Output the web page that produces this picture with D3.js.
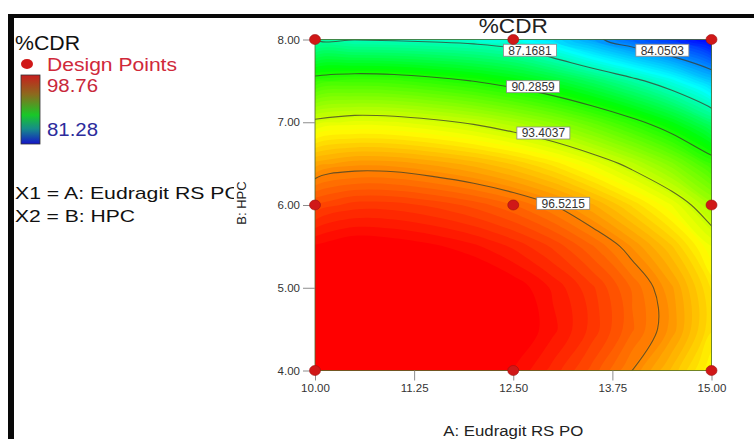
<!DOCTYPE html>
<html lang="en">
<head>
<meta charset="utf-8">
<title>%CDR contour</title>
<script src="https://cdn.jsdelivr.net/npm/d3@7"></script>
<style>
  body { margin: 0; background: #fff; }
  svg text { font-family: "Liberation Sans", Arial, sans-serif; }
</style>
</head>
<body>
<div id="chart"></div>
<script>
    // factor levels of the grid (A: Eudragit RS PO, B: HPC)
    const aLevels = [10, 10.5, 11, 11.5, 12, 12.5, 13, 13.5, 14, 14.5, 15];
    const bLevels = [4, 4.5, 5, 5.5, 6, 6.5, 7, 7.5, 8];

    // %CDR, one row per B level (4.00 first)
    const row40 = [98.90, 99.20, 99.32, 99.30, 99.10, 98.80, 98.20, 97.45, 96.52, 95.49, 94.30];
    const row45 = [98.91, 99.31, 99.53, 99.58, 99.44, 99.12, 98.63, 97.95, 97.09, 96.20, 94.84];
    const row50 = [99.09, 99.46, 99.59, 99.53, 99.37, 99.02, 98.50, 97.85, 97.01, 96.10, 94.76];
    const row55 = [98.85, 99.10, 99.02, 98.86, 98.62, 98.25, 97.75, 97.08, 96.27, 95.33, 94.06];
    const row60 = [97.59, 97.92, 97.91, 97.73, 97.46, 97.07, 96.54, 95.84, 95.00, 94.04, 92.74];
    const row65 = [95.91, 96.21, 96.18, 95.97, 95.68, 95.26, 94.71, 93.98, 93.12, 92.12, 90.80];
    const row70 = [93.62, 93.89, 93.83, 93.60, 93.28, 92.83, 92.26, 91.50, 90.61, 89.59, 88.25];
    const row75 = [90.70, 90.95, 90.87, 90.60, 90.26, 89.79, 89.19, 88.40, 87.49, 86.45, 85.07];
    const row80 = [87.17, 87.12, 87.05, 86.95, 86.80, 86.48, 85.55, 84.35, 83.30, 82.40, 81.28];
    const cdrRows = [row40, row45, row50, row55, row60, row65, row70, row75, row80];

    // contour levels and where their labels sit
    const contourLevels = [84.0503, 87.1681, 90.2859, 93.4037, 96.5215];
    const labelA = [14.38, 12.71, 12.75, 12.88, 13.13];
    const labelB = [7.87, 7.87, 7.43, 6.87, 6.02];

    // design points
    const designA = [10, 12.5, 15, 10, 12.5, 15, 10, 12.5, 15];
    const designB = [4, 4, 4, 6, 6, 6, 8, 8, 8];

    const xTicks = [10, 11.25, 12.5, 13.75, 15];
    const yTicks = [4, 5, 6, 7, 8];
    const legendHigh = 98.76, legendLow = 81.28;

    const W = 754, H = 439;
    const svg = d3.select("#chart").append("svg")
        .attr("width", W).attr("height", H);

    const x = d3.scaleLinear().domain([10, 15]).range([315, 711.5]);
    const y = d3.scaleLinear().domain([4, 8]).range([370.5, 39.5]);

    // rainbow scale, blue (low) to red (high)
    const color = d3.scaleLinear()
        .domain([legendLow, 86.0, 89.7, 94.2, legendHigh])
        .range(["#0000ff", "#00ffff", "#00ff00", "#ffff00", "#ff0000"])
        .clamp(true);

    // flatten grid for d3.contours (row 0 = B 4.00)
    const nx = aLevels.length, ny = bLevels.length;
    const values = [].concat(...cdrRows);
    const dA = aLevels[1] - aLevels[0], dB = bLevels[1] - bLevels[0];

    // grid coords -> pixels (cell centres sit at +0.5)
    const toPx = p => [x(aLevels[0] + (p[0] - 0.5) * dA), y(bLevels[0] + (p[1] - 0.5) * dB)];
    const ringLine = d3.line().curve(d3.curveCatmullRomClosed.alpha(0.5));
    const smoothPath = mp => mp.coordinates
        .map(poly => poly.map(ring => ringLine(ring.slice(0, -1).map(toPx))).join(""))
        .join("");

    svg.append("clipPath").attr("id", "plotclip")
        .append("rect")
        .attr("x", x(10)).attr("y", y(8))
        .attr("width", x(15) - x(10)).attr("height", y(4) - y(8));

    const plot = svg.append("g").attr("clip-path", "url(#plotclip)");

    // filled colour bands
    const bandSteps = d3.range(81.3, 100, 0.25);
    plot.append("rect")
        .attr("x", x(10)).attr("y", y(8))
        .attr("width", x(15) - x(10)).attr("height", y(4) - y(8))
        .attr("fill", color(legendLow));
    plot.selectAll("path.band")
        .data(d3.contours().size([nx, ny]).thresholds(bandSteps)(values))
        .enter().append("path")
            .attr("class", "band")
            .attr("d", smoothPath)
            .attr("fill", d => color(d.value));

    // contour lines
    plot.selectAll("path.iso")
        .data(d3.contours().size([nx, ny]).thresholds(contourLevels)(values))
        .enter().append("path")
            .attr("class", "iso")
            .attr("d", smoothPath)
            .attr("fill", "none")
            .attr("stroke", "#3b3b2c")
            .attr("stroke-opacity", 0.75)
            .attr("stroke-width", 1.1);

    // plot border
    svg.append("rect")
        .attr("x", x(10)).attr("y", y(8))
        .attr("width", x(15) - x(10)).attr("height", y(4) - y(8))
        .attr("fill", "none")
        .attr("stroke", "#4f6a2a")
        .attr("stroke-opacity", 0.8)
        .attr("stroke-width", 1);

    // contour labels
    const labels = svg.append("g");
    contourLevels.forEach((v, i) => {
        const cx = x(labelA[i]), cy = y(labelB[i]);
        labels.append("rect")
            .attr("x", cx - 26.5).attr("y", cy - 6)
            .attr("width", 53).attr("height", 12)
            .attr("fill", "#fff")
            .attr("stroke", "#8a8a8a")
            .attr("stroke-width", 0.8);
        labels.append("text")
            .attr("x", cx).attr("y", cy + 4.3)
            .attr("text-anchor", "middle")
            .style("font-size", "12px")
            .attr("fill", "#333")
            .text(v.toFixed(4));
    });

    // axes
    const yAxis = svg.append("g")
        .attr("transform", "translate(" + x(10) + ",0)")
        .call(d3.axisLeft(y).tickValues(yTicks).tickFormat(d3.format(".2f")).tickSize(12).tickPadding(3));
    const xAxis = svg.append("g")
        .attr("transform", "translate(0," + y(4) + ")")
        .call(d3.axisBottom(x).tickValues(xTicks).tickFormat(d3.format(".2f")).tickSize(10).tickPadding(3));
    [xAxis, yAxis].forEach(ax => {
        ax.select(".domain").remove();
        ax.selectAll("line").attr("stroke", "#8c8c8c");
        ax.selectAll("text")
            .attr("fill", "#333")
            .style("font-size", "11.5px")
            .style("font-family", "'Liberation Sans', Arial, sans-serif");
    });

    // design points
    svg.append("g").selectAll("ellipse")
        .data(designA.map((a, i) => [a, designB[i]]))
        .enter().append("ellipse")
            .attr("cx", d => x(d[0]))
            .attr("cy", d => y(d[1]))
            .attr("rx", 5.5).attr("ry", 5)
            .attr("fill", "#d01818")
            .attr("stroke", "#a01010")
            .attr("stroke-width", 0.6);

    // title and axis titles
    svg.append("text")
        .attr("x", (x(10) + x(15)) / 2).attr("y", 33)
        .attr("text-anchor", "middle")
        .style("font-size", "21px")
        .attr("textLength", 69).attr("lengthAdjust", "spacingAndGlyphs")
        .attr("fill", "#222")
        .text("%CDR");

    svg.append("text")
        .attr("x", (x(10) + x(15)) / 2).attr("y", 435.5)
        .attr("text-anchor", "middle")
        .style("font-size", "14px")
        .attr("textLength", 140).attr("lengthAdjust", "spacingAndGlyphs")
        .attr("fill", "#222")
        .text("A: Eudragit RS PO");

    // left legend
    svg.append("clipPath").attr("id", "legclip")
        .append("rect").attr("x", 0).attr("y", 0).attr("width", 234).attr("height", H);
    const leg = svg.append("g").attr("clip-path", "url(#legclip)");

    leg.append("text")
        .attr("x", 15).attr("y", 50)
        .style("font-size", "19.5px")
        .attr("textLength", 65).attr("lengthAdjust", "spacingAndGlyphs")
        .attr("fill", "#111")
        .text("%CDR");

    leg.append("ellipse")
        .attr("cx", 27).attr("cy", 64)
        .attr("rx", 6).attr("ry", 5)
        .attr("fill", "#d01818");

    leg.append("text")
        .attr("x", 47).attr("y", 71)
        .style("font-size", "18px")
        .attr("textLength", 130).attr("lengthAdjust", "spacingAndGlyphs")
        .attr("fill", "#d0283a")
        .text("Design Points");

    const grad = svg.append("defs").append("linearGradient")
        .attr("id", "leggrad")
        .attr("x1", 0).attr("y1", 0).attr("x2", 0).attr("y2", 1);
    [["0%", "#c81e1e"], ["28%", "#8c6a1e"], ["58%", "#18c828"], ["78%", "#168c8a"], ["100%", "#1414c8"]]
        .forEach(s => grad.append("stop").attr("offset", s[0]).attr("stop-color", s[1]));

    leg.append("rect")
        .attr("x", 21).attr("y", 75)
        .attr("width", 19).attr("height", 69)
        .attr("fill", "url(#leggrad)")
        .attr("stroke", "#333")
        .attr("stroke-width", 0.8);

    leg.append("text")
        .attr("x", 47).attr("y", 92)
        .style("font-size", "18px")
        .attr("textLength", 51).attr("lengthAdjust", "spacingAndGlyphs")
        .attr("fill", "#c8283a")
        .text(legendHigh.toFixed(2));

    leg.append("text")
        .attr("x", 47).attr("y", 136)
        .style("font-size", "18px")
        .attr("textLength", 51).attr("lengthAdjust", "spacingAndGlyphs")
        .attr("fill", "#2c2c9c")
        .text(legendLow.toFixed(2));

    leg.append("text")
        .attr("x", 15).attr("y", 199)
        .style("font-size", "17px")
        .attr("textLength", 226).attr("lengthAdjust", "spacingAndGlyphs")
        .attr("fill", "#111")
        .text("X1 = A: Eudragit RS PO");

    leg.append("text")
        .attr("x", 15).attr("y", 221.5)
        .style("font-size", "17px")
        .attr("textLength", 120).attr("lengthAdjust", "spacingAndGlyphs")
        .attr("fill", "#111")
        .text("X2 = B: HPC");

    svg.append("text")
        .attr("transform", "translate(246,203) rotate(-90)")
        .attr("text-anchor", "middle")
        .style("font-size", "13px")
        .attr("fill", "#222")
        .text("B: HPC");

    // black frame lines on top and left
    svg.append("rect").attr("x", 8).attr("y", 14).attr("width", W - 8).attr("height", 4).attr("fill", "#080808");
    svg.append("rect").attr("x", 8).attr("y", 14).attr("width", 6).attr("height", H - 14).attr("fill", "#080808");
</script>
</body>
</html>
